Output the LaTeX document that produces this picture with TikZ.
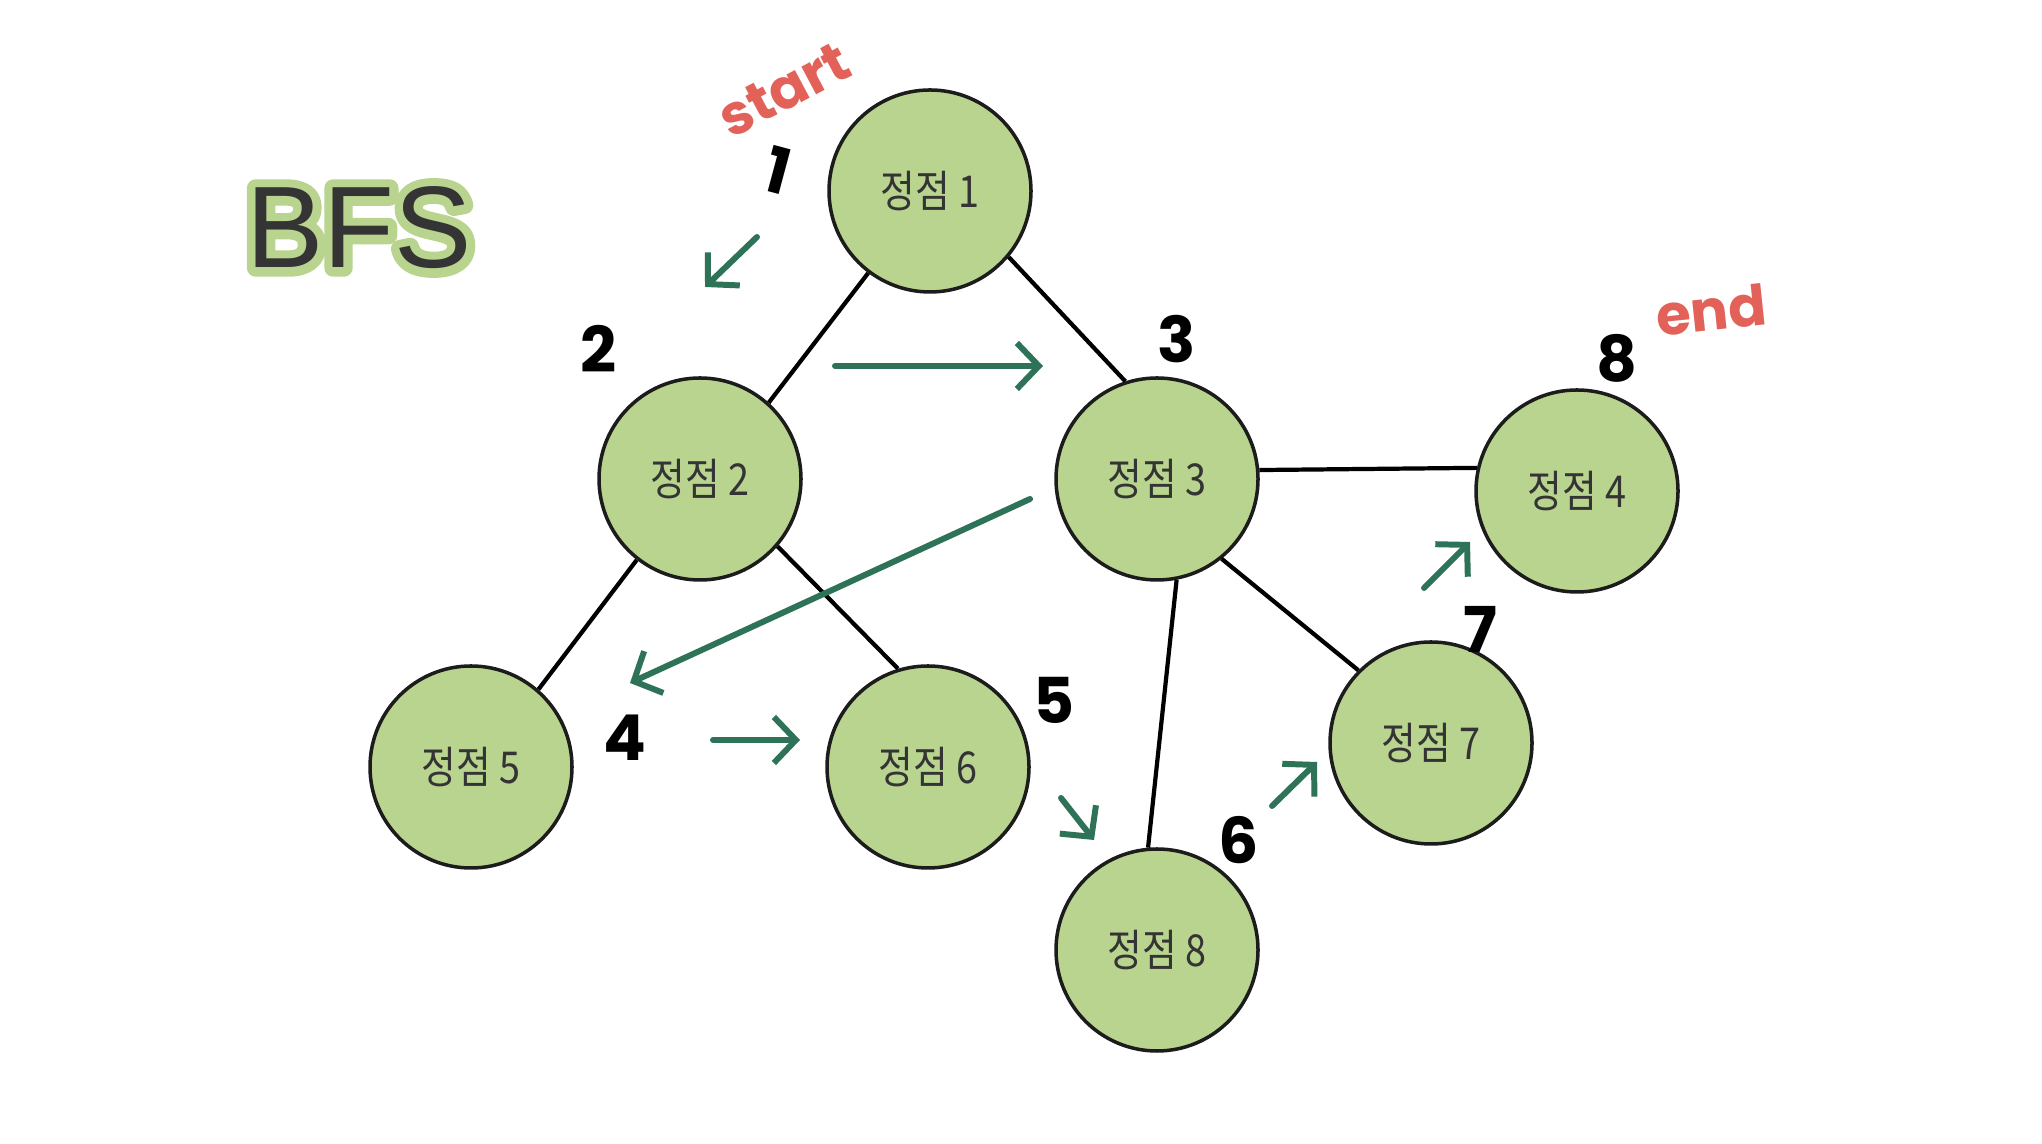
\documentclass[tikz,border=0pt]{standalone}
\usepackage{fontspec}
\setmainfont{Liberation Sans}
\newfontfamily\krfont[FakeStretch=0.86]{Noto Sans CJK KR}
\newfontfamily\handfont{Poppins}
\usetikzlibrary{arrows.meta}
\definecolor{vertexfill}{RGB}{185,212,143}
\definecolor{vertexline}{RGB}{28,28,28}
\definecolor{labeltext}{RGB}{52,52,52}
\definecolor{walkgreen}{RGB}{46,115,87}
\definecolor{notered}{RGB}{226,98,90}
% stroked-only text for the title halo
\newcommand{\halotext}[1]{\special{pdf:literal direct 1 Tr 5 w 1 J 1 j 0.725 0.831 0.561 RG}#1\special{pdf:literal direct 0 Tr}}
\begin{document}
\begin{tikzpicture}[
        vertex/.style={circle, draw=vertexline, fill=vertexfill, line width=1pt, minimum size=2.02cm, inner sep=0pt, font=\krfont\fontsize{12.5}{14}\selectfont, text=labeltext},
        edge/.style={line width=1.2pt, black},
        walk/.style={-{Straight Barb[length=2.2mm, width=4.6mm]}, line width=1.7pt, line cap=round, walkgreen},
        order/.style={inner sep=0pt, font=\handfont\bfseries\fontsize{18}{20}\selectfont, text=black},
        note/.style={inner sep=0pt, font=\handfont\bfseries\fontsize{16}{18}\selectfont, text=notered},
        title/.style={font=\fontsize{33}{36}\selectfont, text=labeltext}
    ]
    \useasboundingbox (0,0) rectangle (20.42,11.44);

    % Title
    \node[title] (halo) at (3.59,9.16) {\halotext{BFS}};
    \node[title] (bfs) at (3.59,9.16) {BFS};

    % Vertices
    \node[vertex] (v1) at (9.30,9.53) {정점 1};
    \node[vertex] (v2) at (7.00,6.65) {정점 2};
    \node[vertex] (v3) at (11.57,6.65) {정점 3};
    \node[vertex] (v4) at (15.77,6.53) {정점 4};
    \node[vertex] (v5) at (4.71,3.77) {정점 5};
    \node[vertex] (v6) at (9.28,3.77) {정점 6};
    \node[vertex] (v7) at (14.31,4.01) {정점 7};
    \node[vertex] (v8) at (11.57,1.94) {정점 8};

    % Edges
    \draw[edge] (v1.-127) -- (v2.48);
    \draw[edge] (v1.-40) -- (v3.108);
    \draw[edge] (v2.-128) -- (v5.49);
    \draw[edge] (v2.-41) -- (v6.107);
    \draw[edge] (v3.5) -- (v4.167);
    \draw[edge] (v3.-51) -- (v7.135);
    \draw[edge] (v3.-79) -- (v8.95);

    % Visit order
    \node[order, rotate=-15] (o1) at (7.78,9.74) {1};
    \node[order] (o2) at (5.99,7.95) {2};
    \node[order] (o3) at (11.77,8.05) {3};
    \node[order] (o4) at (6.25,4.06) {4};
    \node[order] (o5) at (10.54,4.44) {5};
    \node[order] (o6) at (12.39,3.04) {6};
    \node[order] (o7) at (14.80,5.15) {7};
    \node[order] (o8) at (16.17,7.86) {8};

    % Start / end notes
    \node[note, rotate=28] (start) at (7.84,10.54) {start};
    \node[note, rotate=6] (end) at (17.11,8.34) {end};

    % Traversal arrows
    \coordinate (s1) at (7.57,9.07);  \coordinate (t1) at (7.05,8.57);
    \coordinate (s2) at (8.35,7.78);  \coordinate (t2) at (10.43,7.78);
    \coordinate (s3) at (10.30,6.45); \coordinate (t3) at (6.30,4.61);
    \coordinate (s4) at (7.13,4.04);  \coordinate (t4) at (8.00,4.04);
    \coordinate (s5) at (10.61,3.46); \coordinate (t5) at (10.94,3.04);
    \coordinate (s6) at (12.72,3.38); \coordinate (t6) at (13.17,3.82);
    \coordinate (s7) at (14.24,5.56); \coordinate (t7) at (14.70,6.02);
    \foreach \i in {1,...,7}
        \draw[walk] (s\i) -- (t\i);

\end{tikzpicture}
\end{document}
